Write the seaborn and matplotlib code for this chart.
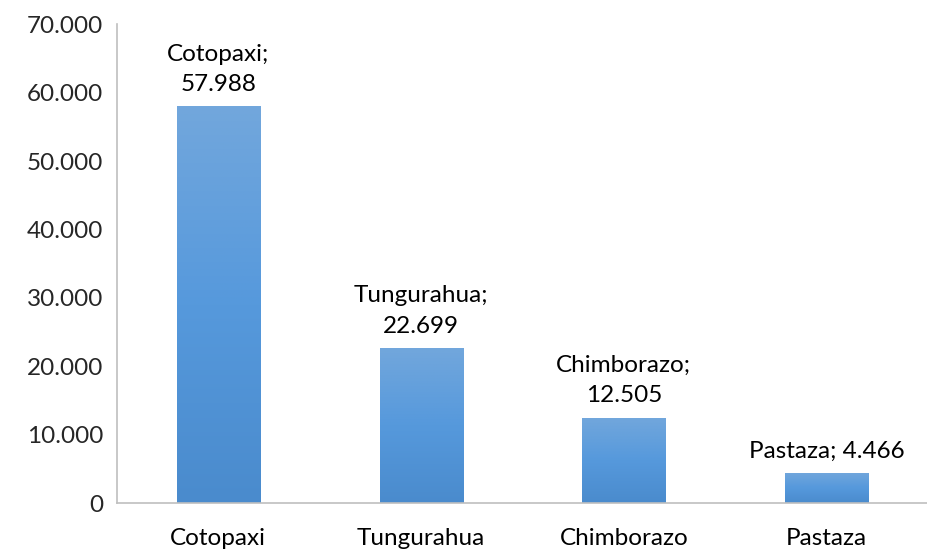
import matplotlib
matplotlib.use("Agg")
import matplotlib.pyplot as plt
import matplotlib.ticker as mticker
from matplotlib.colors import LinearSegmentedColormap
import numpy as np
import pandas as pd
import seaborn as sns

provinces = ["Cotopaxi", "Tungurahua", "Chimborazo", "Pastaza"]
values = [57988, 22699, 12505, 4466]
label_texts = ["Cotopaxi;\n57.988", "Tungurahua;\n22.699", "Chimborazo;\n12.505", "Pastaza; 4.466"]

df = pd.DataFrame({"Provincia": provinces, "Valor": values})

sns.set_style("white")
plt.rcParams["font.family"] = ["Lato", "DejaVu Sans"]

fig = plt.figure(figsize=(9.28, 5.51), dpi=100)
ax = fig.add_axes([0.126, 0.087, 0.874, 0.869])

sns.barplot(data=df, x="Provincia", y="Valor", color="#5b9bd5", width=0.41, ax=ax)

# gradient fill on each bar (light on top, darker at bottom)
cmap = LinearSegmentedColormap.from_list("bar", ["#4a8bcd", "#5699dc", "#72a7dc"])
grad = np.linspace(0, 1, 256).reshape(-1, 1)
for patch in ax.patches:
    x0, y0 = patch.get_x(), patch.get_y()
    w, h = patch.get_width(), patch.get_height()
    im = ax.imshow(grad, cmap=cmap, aspect="auto", origin="lower",
                   extent=[x0, x0 + w, y0, y0 + h], zorder=patch.get_zorder())
    im.set_clip_path(patch)

ax.set_xlim(-0.5, 3.5)
ax.set_ylim(0, 70000)
ax.yaxis.set_major_locator(mticker.MultipleLocator(10000))
ax.yaxis.set_major_formatter(mticker.FuncFormatter(lambda v, p: f"{int(v):,}".replace(",", ".")))

fs = 17.5
for patch, txt in zip(ax.patches, label_texts):
    ax.annotate(txt, (patch.get_x() + patch.get_width() / 2, patch.get_height()),
                xytext=(0, 8), textcoords="offset points", ha="center", va="bottom",
                fontsize=fs, linespacing=1.55, color="#000000")

ax.set_xlabel("")
ax.set_ylabel("")
ax.tick_params(axis="x", which="major", length=0, labelsize=fs, pad=18, colors="#000000")
ax.set_xticks([-0.5, 0.5, 1.5, 2.5, 3.5], minor=True)
ax.tick_params(axis="x", which="minor", length=6, color="#bfbfbf", width=1.2)
ax.tick_params(axis="y", length=6, color="#bfbfbf", width=1.2, labelsize=fs, pad=4)

for s in ["top", "right"]:
    ax.spines[s].set_visible(False)
for s in ["left", "bottom"]:
    ax.spines[s].set_color("#bfbfbf")
    ax.spines[s].set_linewidth(1.2)

fig.savefig("out.png", dpi=100)
